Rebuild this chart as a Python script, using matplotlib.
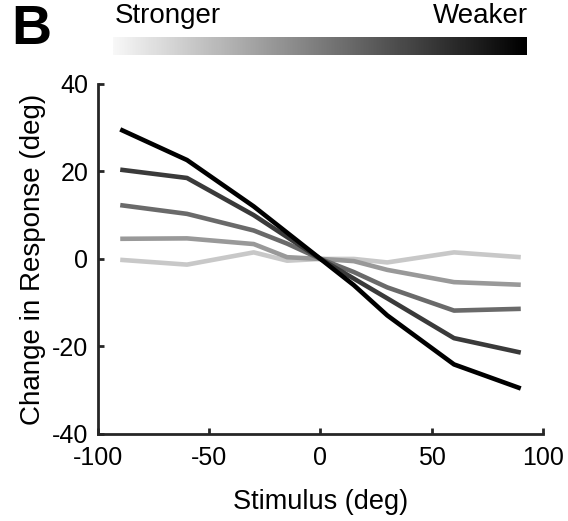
import numpy as np
import matplotlib
matplotlib.use("Agg")
import matplotlib.pyplot as plt

plt.rcParams['font.family'] = ['Liberation Sans', 'DejaVu Sans']
plt.rcParams['axes.unicode_minus'] = False

# stimulus positions (deg)
stim = [-90, -60, -30, -15, 0, 15, 30, 60, 90]

# change in response per condition, stronger -> weaker
resp_1 = [-0.2, -1.3, 1.5, -0.4, 0, 0.0, -0.8, 1.5, 0.4]
resp_2 = [4.6, 4.7, 3.4, 0.4, 0, -0.5, -2.5, -5.3, -5.9]
resp_3 = [12.3, 10.3, 6.5, 3.5, 0, -3.0, -6.5, -11.8, -11.4]
resp_4 = [20.4, 18.5, 10.0, 5.0, 0, -4.5, -9.0, -18.1, -21.4]
resp_5 = [29.6, 22.6, 12.0, 6.0, 0, -6.0, -12.9, -24.1, -29.6]
responses = [resp_1, resp_2, resp_3, resp_4, resp_5]
greys = ['#c8c8c8', '#999999', '#6a6a6a', '#3a3a3a', '#000000']

fig = plt.figure(figsize=(5.68, 5.21), dpi=100)
ax = fig.add_axes([0.1725, 0.167, 0.7835, 0.672])

for r, c in zip(responses, greys):
    ax.plot(stim, r, color=c, lw=3.3, solid_capstyle='butt')

ax.set_xlim(-100, 100)
ax.set_ylim(-40, 40)
ax.set_xticks([-100, -50, 0, 50, 100])
ax.set_yticks([-40, -20, 0, 20, 40])
for s in ['top', 'right']:
    ax.spines[s].set_visible(False)
for s in ['left', 'bottom']:
    ax.spines[s].set_linewidth(2.0)
    ax.spines[s].set_color('#262626')
ax.tick_params(direction='in', length=4, width=2.0, color='#262626',
               labelsize=18)
ax.tick_params(axis='x', pad=9)
ax.tick_params(axis='y', pad=7)
ax.set_xlabel('Stimulus (deg)', fontsize=19.5, labelpad=13)
ax.set_ylabel('Change in Response (deg)', fontsize=20, labelpad=4)

# strength gradient bar
cax = fig.add_axes([113 / 568, 1 - 55 / 521, 414 / 568, 18 / 521])
grad = np.linspace(0.03, 1, 256).reshape(1, -1)
cax.imshow(grad, aspect='auto', cmap='gray_r', vmin=0, vmax=1)
cax.axis('off')
fig.text(115 / 568, 1 - 16 / 521, 'Stronger', fontsize=20, va='center', ha='left')
fig.text(528 / 568, 1 - 16 / 521, 'Weaker', fontsize=20, va='center', ha='right')
fig.text(11 / 568, 1 - 30 / 521, 'B', fontsize=40, fontweight='bold', va='center', ha='left')

fig.savefig('out.png', dpi=100)
